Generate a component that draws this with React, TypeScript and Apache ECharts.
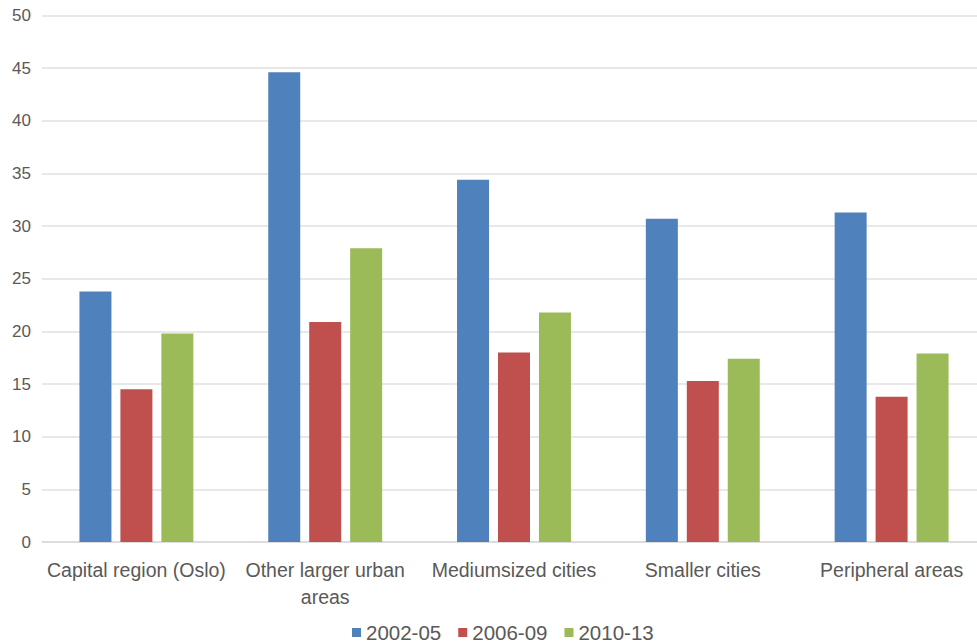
import React, { useEffect, useRef } from "react";
import * as echarts from "echarts";

const categories = [
  "Capital region (Oslo)",
  "Other larger urban\nareas",
  "Mediumsized cities",
  "Smaller cities",
  "Peripheral areas",
];
const seriesNames = ["2002-05", "2006-09", "2010-13"];
const values2002 = [23.8, 44.6, 34.4, 30.7, 31.3];
const values2006 = [14.5, 20.9, 18.0, 15.3, 13.8];
const values2010 = [19.8, 27.9, 21.8, 17.4, 17.9];
const colors = ["#4F81BD", "#C0504D", "#9BBB59"];

const FONT = "'Liberation Sans', Arial, sans-serif";

export default function App() {
  const ref = useRef<HTMLDivElement>(null);
  useEffect(() => {
    if (!ref.current) return;
    const chart = echarts.init(ref.current, null, { renderer: "svg" });
    const data = [values2002, values2006, values2010];
    chart.setOption({
      animation: false,
      backgroundColor: "#ffffff",
      grid: { left: 42, right: 0, top: 15.5, bottom: 102, containLabel: false },
      legend: {
        bottom: 1,
        left: 352,
        padding: 0,
        icon: "rect",
        itemWidth: 9,
        itemHeight: 9,
        itemGap: 17,
        textStyle: { color: "#595959", fontSize: 20.5, fontFamily: FONT },
        data: seriesNames,
      },
      xAxis: {
        type: "category",
        data: categories,
        axisLine: { show: true, lineStyle: { color: "#d9d9d9", width: 1.5 } },
        axisTick: { show: false },
        axisLabel: {
          color: "#595959",
          fontSize: 19.5,
          fontFamily: FONT,
          margin: 14,
          lineHeight: 27,
          interval: 0,
        },
      },
      yAxis: {
        type: "value",
        min: 0,
        max: 50,
        interval: 5,
        axisLine: { show: false },
        axisTick: { show: false },
        axisLabel: { color: "#595959", fontSize: 17, fontFamily: FONT, margin: 11 },
        splitLine: { lineStyle: { color: "#e0e0e0", width: 1.5 } },
      },
      series: seriesNames.map((name, i) => ({
        name,
        type: "bar",
        data: data[i],
        barWidth: 32,
        barGap: "28%",
        itemStyle: { color: colors[i] },
      })),
    });
    return () => chart.dispose();
  }, []);
  return (
    <div
      ref={ref}
      style={{ position: "fixed", left: 0, top: 0, width: 986, height: 644 }}
    />
  );
}
